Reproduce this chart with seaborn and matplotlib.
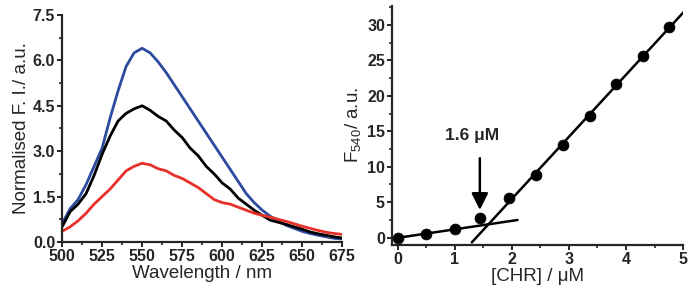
import numpy as np
import pandas as pd
import matplotlib
matplotlib.use("Agg")
import matplotlib.pyplot as plt
import seaborn as sns
from matplotlib.ticker import MultipleLocator

# spectra (normalised fluorescence intensity), 500-675 nm every 5 nm
wavelength = list(range(500, 680, 5))
fi_blue = [0.6, 1.1, 1.4, 1.9, 2.5, 3.1, 4.1, 5.0, 5.8, 6.25, 6.4, 6.25, 5.95, 5.6, 5.2, 4.8,
           4.4, 4.0, 3.6, 3.2, 2.8, 2.4, 2.0, 1.6, 1.3, 1.05, 0.85, 0.7, 0.55, 0.45, 0.35,
           0.28, 0.22, 0.17, 0.12, 0.1]
fi_black = [0.5, 1.0, 1.25, 1.6, 2.2, 2.9, 3.5, 4.0, 4.25, 4.4, 4.5, 4.35, 4.15, 4.0, 3.7,
            3.45, 3.1, 2.85, 2.5, 2.25, 1.95, 1.75, 1.45, 1.25, 1.05, 0.88, 0.72, 0.65,
            0.58, 0.5, 0.42, 0.33, 0.27, 0.22, 0.17, 0.13]
fi_red = [0.35, 0.5, 0.7, 0.95, 1.25, 1.5, 1.75, 2.05, 2.35, 2.5, 2.6, 2.55, 2.42, 2.35,
          2.2, 2.1, 1.95, 1.8, 1.6, 1.4, 1.3, 1.25, 1.15, 1.05, 0.95, 0.88, 0.82, 0.75,
          0.68, 0.6, 0.52, 0.45, 0.38, 0.32, 0.28, 0.25]

# titration: F540 vs [CHR]
chr_conc = [0, 0.5, 1.0, 1.45, 1.95, 2.43, 2.9, 3.37, 3.83, 4.3, 4.75]
f540 = [0.0, 0.5, 1.2, 2.8, 5.6, 8.8, 13.1, 17.2, 21.7, 25.6, 29.7]
low_range = (0.0, 2.1)
high_range = (1.3, 5.05)
lod_label = "1.6 \u03bcM"

spec = pd.DataFrame({"wl": wavelength, "blue": fi_blue, "black": fi_black, "red": fi_red})
titr = pd.DataFrame({"c": chr_conc, "f": f540})

sns.set_style("ticks")
plt.rcParams["font.family"] = ["Liberation Sans", "DejaVu Sans"]
plt.rcParams["mathtext.fontset"] = "custom"
plt.rcParams["mathtext.rm"] = "Liberation Sans"

fig = plt.figure(figsize=(6.9, 2.94), dpi=100)
ax1 = fig.add_axes([0.090, 0.177, 0.406, 0.772])
ax2 = fig.add_axes([0.568, 0.167, 0.422, 0.813])

#----- spectra
for col, c in [("blue", "#2c4a9e"), ("black", "black"), ("red", "#e8302a")]:
    sns.lineplot(data=spec, x="wl", y=col, ax=ax1, color=c, lw=2.0)
ax1.set_xlim(500, 675)
ax1.set_ylim(0, 7.5)
ax1.xaxis.set_major_locator(MultipleLocator(25))
ax1.xaxis.set_minor_locator(MultipleLocator(12.5))
ax1.yaxis.set_major_locator(MultipleLocator(1.5))
ax1.yaxis.set_minor_locator(MultipleLocator(0.75))
ax1.set_yticklabels([f"{v:.1f}" for v in ax1.get_yticks()])
ax1.set_xlabel("Wavelength / nm", fontsize=13.5, labelpad=1)
ax1.set_ylabel("Normalised F. I./ a.u.", fontsize=13.5, labelpad=2)

#----- titration
sns.scatterplot(data=titr, x="c", y="f", ax=ax2, color="black", s=60, edgecolor="black", zorder=3)
p_low = np.polyfit(chr_conc[:3], f540[:3], 1)
p_high = np.polyfit(chr_conc[4:], f540[4:], 1)
xl = np.array(low_range)
xh = np.array(high_range)
ax2.plot(xl, np.polyval(p_low, xl), color="black", lw=1.8)
ax2.plot(xh, np.polyval(p_high, xh), color="black", lw=1.8)
ax2.text(1.3, 14.4, lod_label, ha="center", va="center", fontsize=12.5, fontweight="bold")
ax2.annotate("", xy=(1.44, 3.9), xytext=(1.44, 11.2),
             arrowprops=dict(arrowstyle="-|>,head_length=1.0,head_width=0.5", color="black",
                             lw=1.8, shrinkA=0, shrinkB=0))
ax2.set_xlim(-0.1, 5)
ax2.set_ylim(-1.03, 32.7)
ax2.xaxis.set_major_locator(MultipleLocator(1))
ax2.xaxis.set_minor_locator(MultipleLocator(0.5))
ax2.yaxis.set_major_locator(MultipleLocator(5))
ax2.yaxis.set_minor_locator(MultipleLocator(2.5))
ax2.set_xlabel("[CHR] / \u03bcM", fontsize=13.5, labelpad=1)
ax2.set_ylabel("F$_{540}$/ a.u.", fontsize=13.5, labelpad=2)

for ax in (ax1, ax2):
    sns.despine(ax=ax)
    for s in ("left", "bottom"):
        ax.spines[s].set_linewidth(1.6)
    ax.tick_params(which="major", length=3.5, width=1.4, labelsize=11.5, pad=1.5)
    ax.tick_params(which="minor", length=2, width=1.2)
    for lab in ax.get_xticklabels() + ax.get_yticklabels():
        lab.set_fontweight("bold")

plt.savefig("out.png", dpi=100)
plt.close("all")
